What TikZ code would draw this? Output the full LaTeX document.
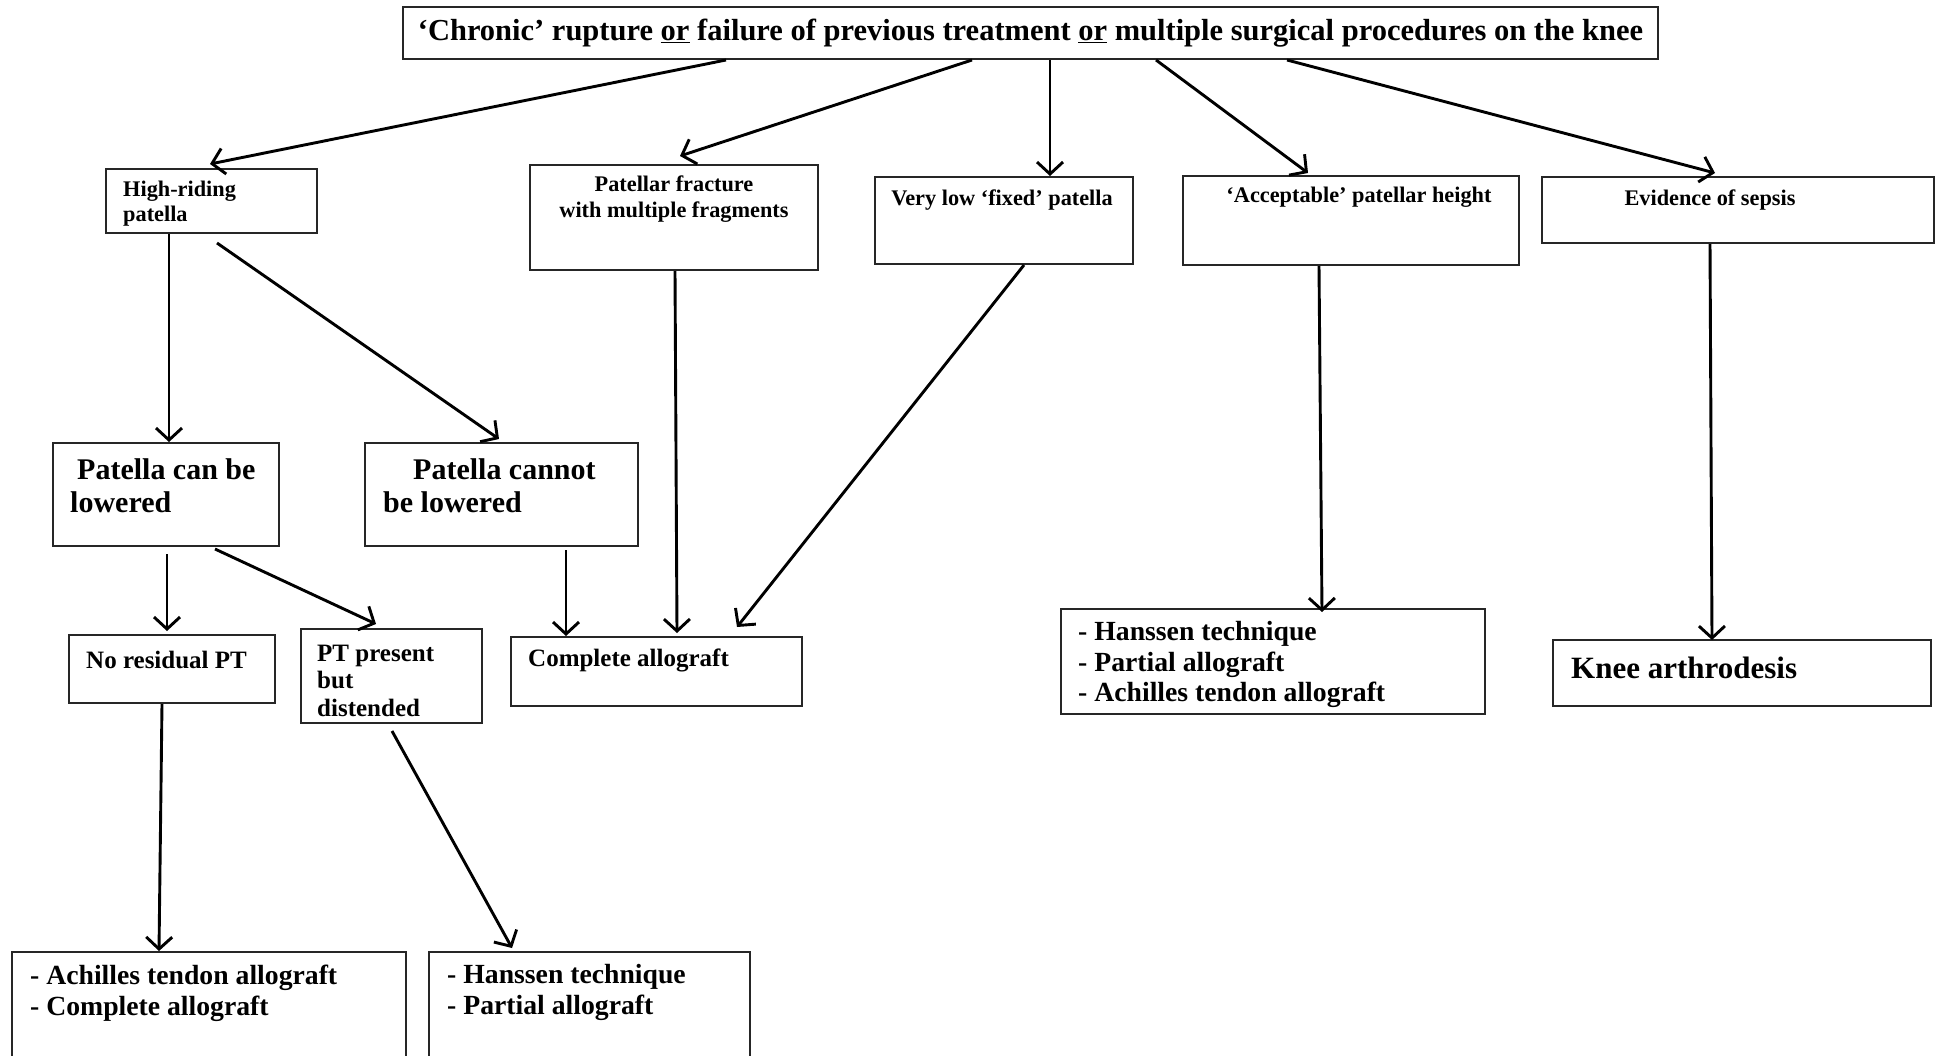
\documentclass[tikz,border=0pt]{standalone}
\usepackage{fontspec}
\setmainfont{Liberation Serif}
\usetikzlibrary{arrows.meta}

\begin{document}
\begin{tikzpicture}[x=1pt,y=-1pt,
  every node/.style={font=\bfseries},
  box/.style={draw=black!85, line width=2pt, inner sep=0pt, anchor=north west},
  txt/.style={inner sep=0pt, anchor=west, align=left},
  toptxt/.style={font=\bfseries\fontsize{30.5}{34}\selectfont},
  smalltxt/.style={font=\bfseries\fontsize{22.3}{25.5}\selectfont},
  midtxt/.style={font=\bfseries\fontsize{25}{27.5}\selectfont},
  bigtxt/.style={font=\bfseries\fontsize{30}{33.5}\selectfont},
  listtxt/.style={font=\bfseries\fontsize{27.7}{30.5}\selectfont},
  kneetxt/.style={font=\bfseries\fontsize{31}{35}\selectfont},
  arr/.style={line width=2.9pt, -{Straight Barb[length=12pt,width=26pt]}}]
  \useasboundingbox (0,0) rectangle (1935,1055);

  % boxes
  \node[box, toptxt, minimum width=1255, minimum height=52] (top) at (402,6)
    {‘Chronic’ rupture \underline{or} failure of previous treatment \underline{or} multiple surgical procedures on the knee};
  \node[box, minimum width=211, minimum height=64] (high) at (105,168) {};
  \node[box, minimum width=288, minimum height=105] (frac) at (529,164) {};
  \node[box, minimum width=258, minimum height=87] (low) at (874,176) {};
  \node[box, minimum width=336, minimum height=89] (acc) at (1182,175) {};
  \node[box, minimum width=392, minimum height=66] (sep) at (1541,176) {};
  \node[box, minimum width=226, minimum height=103] (can) at (52,442) {};
  \node[box, minimum width=273, minimum height=103] (cannot) at (364,442) {};
  \node[box, minimum width=206, minimum height=68] (nores) at (68,634) {};
  \node[box, minimum width=181, minimum height=94] (pres) at (300,628) {};
  \node[box, minimum width=291, minimum height=69] (comp) at (510,636) {};
  \node[box, minimum width=424, minimum height=105] (hansR) at (1060,608) {};
  \node[box, minimum width=378, minimum height=66] (knee) at (1552,639) {};
  \node[box, minimum width=394, minimum height=130] (achL) at (11,951) {};
  \node[box, minimum width=321, minimum height=130] (hansL) at (428,951) {};

  % texts
  \node[txt, smalltxt] (high-t) at (123,203.5) {High-riding\\patella};
  \node[smalltxt, inner sep=0pt, align=center] (frac-t) at (674,199) {Patellar fracture\\with multiple fragments};
  \node[smalltxt, inner sep=0pt] (low-t) at (1002,200) {Very low ‘fixed’ patella};
  \node[smalltxt, inner sep=0pt] (acc-t) at (1359,197) {‘Acceptable’ patellar height};
  \node[smalltxt, inner sep=0pt] (sep-t) at (1710,200) {Evidence of sepsis};
  \node[txt, bigtxt] (can-t) at (70,485.5) {\hspace*{7pt}Patella can be\\lowered};
  \node[txt, bigtxt] (cannot-t) at (383,485.5) {\hspace*{30pt}Patella cannot\\be lowered};
  \node[txt, midtxt] (nores-t) at (86,660) {No residual PT};
  \node[txt, midtxt] (pres-t) at (317,680.5) {PT present\\but\\distended};
  \node[txt, midtxt] (comp-t) at (528,660) {Complete allograft};
  \node[txt, listtxt] (hansR-t) at (1078,664.5) {- Hanssen technique\\- Partial allograft\\- Achilles tendon allograft};
  \node[txt, kneetxt] (knee-t) at (1571,668) {Knee arthrodesis};
  \node[txt, listtxt] (achL-t) at (30,993.5) {- Achilles tendon allograft\\- Complete allograft};
  \node[txt, listtxt] (hansL-t) at (447,992.5) {- Hanssen technique\\- Partial allograft};

  % arrows from the top box
  \draw[arr] ([xshift=324pt]top.south west) -- ([xshift=105pt,yshift=4pt]high.north west);
  \draw[arr] ([xshift=570pt]top.south west) -- ([xshift=151pt,yshift=8pt]frac.north west);
  \draw[arr] ([xshift=648pt]top.south west) -- ([xshift=176pt]low.north west);
  \draw[arr] ([xshift=754pt]top.south west) -- ([xshift=126pt,yshift=2pt]acc.north west);
  \draw[arr] ([xshift=885pt]top.south west) -- ([xshift=174pt,yshift=3pt]sep.north west);

  % high-riding patella
  \draw[arr] ([xshift=64pt]high.south west) -- ([xshift=117pt]can.north west);
  \draw[arr] ([xshift=112pt,yshift=-9pt]high.south west) -- ([xshift=135pt,yshift=3pt]cannot.north west);
  \draw[arr] ([xshift=115pt,yshift=-7pt]can.south west) -- ([xshift=99pt,yshift=3pt]nores.north west);
  \draw[arr] ([xshift=163pt,yshift=-2pt]can.south west) -- ([xshift=76pt,yshift=4pt]pres.north west);
  \draw[arr] ([xshift=202pt,yshift=-3pt]cannot.south west) -- ([xshift=56pt]comp.north west);
  \draw[arr] ([xshift=94pt]nores.south west) -- ([xshift=148pt]achL.north west);
  \draw[arr] ([xshift=92pt,yshift=-7pt]pres.south west) -- ([xshift=84pt,yshift=3pt]hansL.north west);

  % the other branches
  \draw[arr] ([xshift=146pt]frac.south west) -- ([xshift=167pt,yshift=3pt]comp.north west);
  \draw[arr] ([xshift=150pt]low.south west) -- ([xshift=227pt,yshift=9pt]comp.north west);
  \draw[arr] ([xshift=137pt]acc.south west) -- ([xshift=262pt,yshift=-4pt]hansR.north west);
  \draw[arr] ([xshift=169pt]sep.south west) -- ([xshift=160pt,yshift=-1pt]knee.north west);
\end{tikzpicture}
\end{document}
